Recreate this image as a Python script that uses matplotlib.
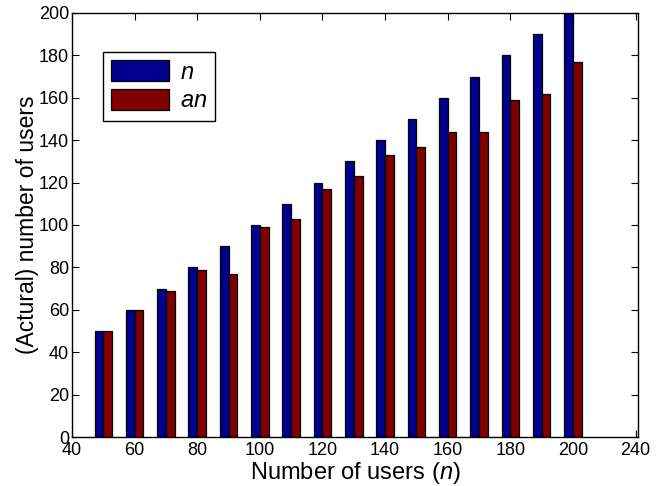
import matplotlib.pyplot as plt
import numpy as np

# -----------------------------
# Data
# -----------------------------

users = [50, 60, 70, 80, 90, 100, 110, 120, 130, 140, 150, 160, 170, 180, 190, 200]
n_values = [50, 60, 70, 80, 90, 100, 110, 120, 130, 140, 150, 160, 170, 180, 190, 200]
an_values = [50, 60, 69, 79, 77, 99, 103, 117, 123, 133, 137, 144, 144, 159, 162, 177]

x_tick_pos = [40, 60, 80, 100, 120, 140, 160, 180, 200, 220]
x_tick_labels = ["40", "60", "80", "100", "120", "140", "160", "180", "200", "240"]
y_ticks = [0, 20, 40, 60, 80, 100, 120, 140, 160, 180, 200]

BLUE = "#00008F"
RED = "#800000"

# -----------------------------
# Style
# -----------------------------

plt.rcParams["font.family"] = ["Liberation Sans", "DejaVu Sans"]
plt.rcParams["mathtext.fontset"] = "custom"
plt.rcParams["mathtext.it"] = "Liberation Sans:italic"
plt.rcParams["mathtext.rm"] = "Liberation Sans"

fig = plt.figure(figsize=(6.68, 4.86), dpi=100)
ax = fig.add_axes([0.1078, 0.1008, 0.8473, 0.8725])

x = np.array(users, dtype=float)
bar_w = 2.8

ax.bar(x - bar_w / 2, n_values, width=bar_w, color=BLUE,
       edgecolor="black", linewidth=0.9, label="$n$", zorder=2)
ax.bar(x + bar_w / 2, an_values, width=bar_w, color=RED,
       edgecolor="black", linewidth=0.9, label="$an$", zorder=2)

ax.set_xlim(40, 220.8)
ax.set_ylim(0, 200)
ax.set_xticks(x_tick_pos)
ax.set_xticklabels(x_tick_labels)
ax.set_yticks(y_ticks)

ax.tick_params(direction="in", length=5, width=0.8, labelsize=13,
               top=True, right=True)
ax.tick_params(axis="x", pad=3.5)
ax.tick_params(axis="y", pad=2)
for spine in ax.spines.values():
    spine.set_linewidth(1.0)

ax.set_xlabel("Number of users ($n$)", fontsize=17, labelpad=0.5)
ax.set_ylabel("(Actural) number of users", fontsize=16.5, labelpad=0)

leg = ax.legend(loc="upper left", bbox_to_anchor=(0.055, 0.908),
                borderaxespad=0, fontsize=17, handlelength=2.45,
                handleheight=1.0, handletextpad=0.45, labelspacing=0.2,
                borderpad=0.35, fancybox=False, framealpha=1)
leg.get_frame().set_edgecolor("black")
leg.get_frame().set_linewidth(1.0)

fig.savefig("out.png", dpi=100)
